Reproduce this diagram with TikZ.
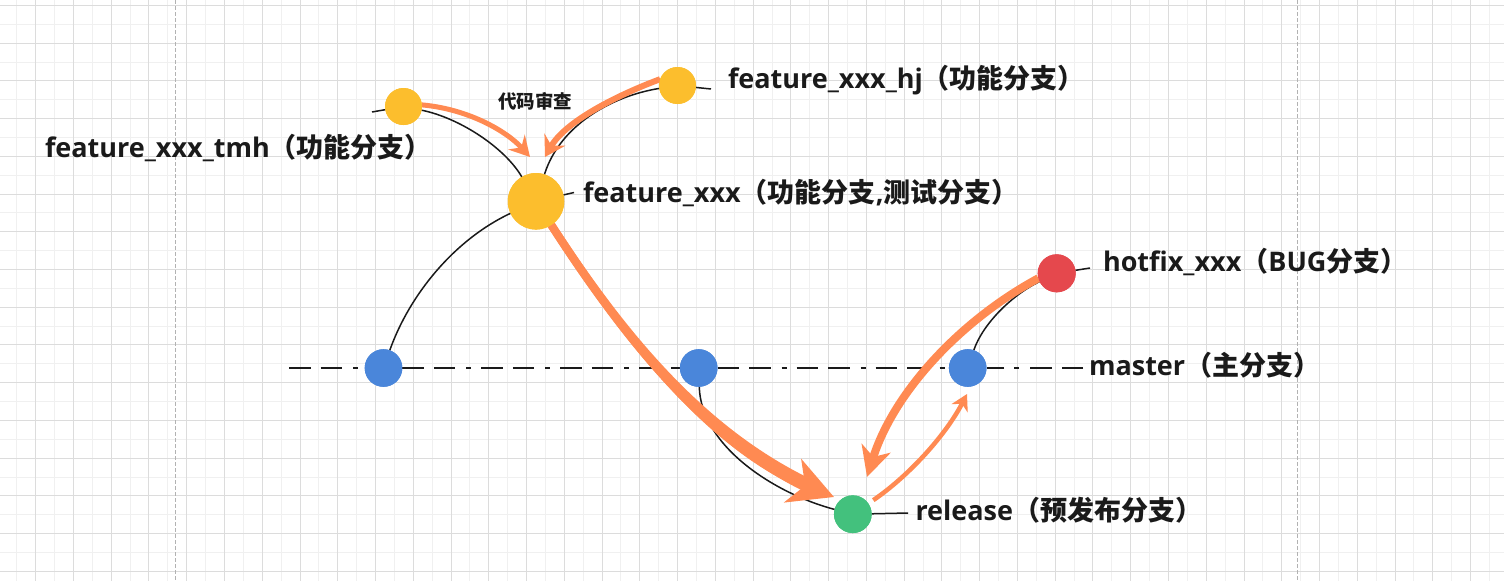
\documentclass[tikz,border=0pt]{standalone}
\usepackage{fontspec}
\newfontfamily\latf{Open Sans}
\newfontfamily\cjkf{Noto Sans CJK SC}
\usetikzlibrary{arrows.meta}
\definecolor{ylw}{RGB}{252,190,45}
\definecolor{blu}{RGB}{74,134,218}
\definecolor{grn}{RGB}{67,193,125}
\definecolor{redn}{RGB}{229,72,77}
\definecolor{org}{RGB}{255,138,82}
\definecolor{ink}{RGB}{26,26,26}
\definecolor{gmaj}{RGB}{220,220,220}
\definecolor{gmin}{RGB}{240,240,240}
\definecolor{gdash}{RGB}{178,178,178}
\tikzset{
  dot/.style={circle, inner sep=0pt, outer sep=0pt, draw=none},
  ydot/.style={dot, fill=ylw, minimum size=37pt},
  bdot/.style={dot, fill=blu, minimum size=37.6pt},
  lbl/.style={anchor=base west, inner sep=0pt, outer sep=0pt, text=ink,
    font=\fontsize{27}{30}\selectfont\bfseries},
  arc/.style={draw=ink, line width=1.5pt},
  mline/.style={draw=ink, line width=2pt,
    dash pattern=on 21.5pt off 10pt on 21.5pt off 11pt on 5pt off 10pt},
  oarrow/.style={draw=org, line width=#1},
  gminor/.style={draw=gmin, line width=1pt},
  gmajor/.style={draw=gmaj, line width=1pt},
  vdash/.style={draw=gdash, line width=1pt, dash pattern=on 4pt off 2pt},
}
\begin{document}
\begin{tikzpicture}[x=1pt,y=-1pt]
\useasboundingbox (0,0) rectangle (1504,581);
\fill[white] (0,0) rectangle (1504,581);
\begin{scope}
\clip (0,0) rectangle (1504,581);
\foreach \i in {0,...,80} \draw[gminor] ({-2.06+\i*18.88},0) -- ({-2.06+\i*18.88},581);
\foreach \i in {0,...,32} \draw[gminor] (0,{-13.36+\i*18.86}) -- (1504,{-13.36+\i*18.86});
\foreach \i in {0,...,40} \draw[gmajor] ({-2.06+\i*37.76},0) -- ({-2.06+\i*37.76},581);
\foreach \i in {0,...,16} \draw[gmajor] (0,{5.5+\i*37.72}) -- (1504,{5.5+\i*37.72});
\draw[vdash] (175.5,0) -- (175.5,581);
\draw[vdash] (1297,0) -- (1297,581);
\end{scope}

% nodes (positions)
\node[ydot] (tmh) at (403.5,106.5) {};
\node[ydot] (hj) at (677.5,85.5) {};
\node[dot, fill=ylw, minimum size=56.5pt] (big) at (536,201.3) {};
\node[bdot] (m1) at (383.5,368) {};
\node[bdot] (m2) at (698.7,368) {};
\node[bdot] (m3) at (967.7,368) {};
\node[dot, fill=grn, minimum size=37.7pt] (rel) at (852.8,514.2) {};
\node[dot, fill=redn, minimum size=38pt] (hot) at (1056.7,273.3) {};

% free ends
\coordinate (mL) at (289,368);
\coordinate (mR) at (1083,368);
\coordinate (tmhL) at (372,112);
\coordinate (hjR) at (711,89);
\coordinate (bigR) at (574,192.5);
\coordinate (relR) at (908,513);
\coordinate (hotR) at (1090,268);
\coordinate (t1) at (530,157);
\coordinate (t2) at (545,157);
\coordinate (t3) at (834,497);
\coordinate (t4) at (867,477);
\coordinate (t5) at (967,394);

% master dash-dot line
\draw[mline] (mL) -- (m1);
\draw[mline] (m1) -- (m2);
\draw[mline] (m2) -- (m3);
\draw[mline] (mR) -- (m3);

% black branch arcs
\draw[arc] (tmhL) -- (tmh);
\draw[arc] (tmh) .. controls (460,118) and (505,148) .. (big);
\draw[arc] (hj) -- (hjR);
\draw[arc] (hj) .. controls (612,96) and (560,125) .. (big);
\draw[arc] (big) -- (bigR);
\draw[arc] (big) .. controls (454.6,239.6) and (409.6,294.4) .. (m1);
\draw[arc] (m2) .. controls (701,447) and (776,494) .. (rel);
\draw[arc] (rel) -- (relR);
\draw[arc] (m3) .. controls (982.9,323.5) and (1012.4,294.7) .. (hot);
\draw[arc] (hot) -- (hotR);

% orange arrows
\draw[oarrow=5pt, -{Stealth[length=20pt,width=22pt,inset=7pt]}]
  (tmh.5) .. controls (468,109) and (506.5,131) .. (t1);
\draw[oarrow=6pt, -{Stealth[length=20pt,width=24pt,inset=7pt]}]
  (hj.160) .. controls (615,96) and (565,122) .. (t2);
% big merge arrow: widening shaft
\fill[org] (554.56,222.73) .. controls (633.06,344.33) and (712.6,432.67) .. (814.1,480.67)
  -- (808.1,493.33) .. controls (706.6,445.33) and (626.34,348.67) .. (547.84,227.07) -- cycle;
\draw[oarrow=8pt, -{Stealth[length=44pt,width=46pt,inset=13pt]}]
  (big) .. controls (635.5,355.5) and (721.4,452.6) .. (t3);
\draw[oarrow=8pt, -{Stealth[length=30pt,width=30pt,inset=9pt]}]
  (hot.195) .. controls (960.8,320.2) and (894,391.5) .. (t4);
\draw[oarrow=4.5pt, -{Stealth[length=16pt,width=18pt,inset=5pt]}, shorten <=6pt]
  (rel) .. controls (910,475) and (946.3,434) .. (t5);

% redraw nodes on top
\fill[ylw] (tmh.center) circle (18.5);
\fill[ylw] (hj.center) circle (18.5);
\fill[ylw] (big.center) circle (28.25);
\fill[blu] (m1.center) circle (18.8);
\fill[blu] (m2.center) circle (18.8);
\fill[blu] (m3.center) circle (18.8);
\fill[grn] (rel.center) circle (18.85);
\fill[redn] (hot.center) circle (19);

% labels
\node[lbl] (ltmh) at (45,157) {\latf feature\_xxx\_tmh\cjkf （功能分支）};
\node[lbl] (lhj) at (728,88) {\latf feature\_xxx\_hj\cjkf （功能分支）};
\node[lbl] (lbig) at (583,202) {\latf feature\_xxx\cjkf （功能分支\latf ,\cjkf 测试分支）};
\node[lbl] (lhot) at (1103,271) {\latf hotfix\_xxx\cjkf （\latf BUG\cjkf 分支）};
\node[lbl] (lmas) at (1089,375) {\latf master\cjkf （主分支）};
\node[lbl] (lrel) at (915.5,520) {\latf release\cjkf （预发布分支）};
\node[inner sep=0pt, text=ink, font=\fontsize{18.5}{20}\selectfont\bfseries\cjkf] (review) at (535,101) {代码审查};
\end{tikzpicture}
\end{document}
